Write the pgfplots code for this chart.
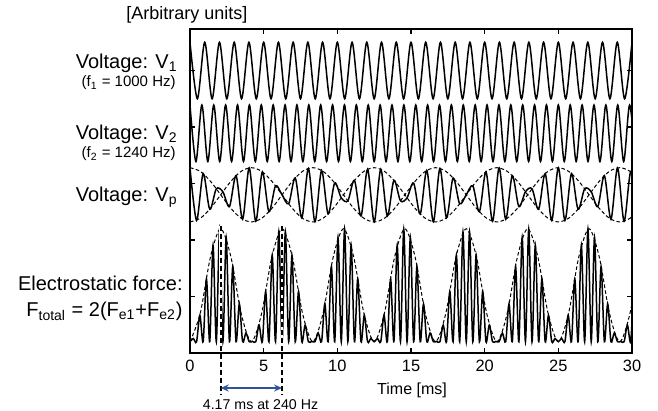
\documentclass[border=0pt]{standalone}
\usepackage{fontspec}
\setmainfont{Liberation Sans}
\usepackage{pgfplots}
\usepackage{pgfplotstable}
\pgfplotsset{compat=1.18}
\usetikzlibrary{arrows.meta}
\definecolor{arrowblue}{RGB}{47,85,151}

% V1, 1000 Hz: extremes every 0.5 ms, panel centre 5.0
\pgfplotstableread{
t y
0.0 5.5
0.5 4.5
1.0 5.5
1.5 4.5
2.0 5.5
2.5 4.5
3.0 5.5
3.5 4.5
4.0 5.5
4.5 4.5
5.0 5.5
5.5 4.5
6.0 5.5
6.5 4.5
7.0 5.5
7.5 4.5
8.0 5.5
8.5 4.5
9.0 5.5
9.5 4.5
10.0 5.5
10.5 4.5
11.0 5.5
11.5 4.5
12.0 5.5
12.5 4.5
13.0 5.5
13.5 4.5
14.0 5.5
14.5 4.5
15.0 5.5
15.5 4.5
16.0 5.5
16.5 4.5
17.0 5.5
17.5 4.5
18.0 5.5
18.5 4.5
19.0 5.5
19.5 4.5
20.0 5.5
20.5 4.5
21.0 5.5
21.5 4.5
22.0 5.5
22.5 4.5
23.0 5.5
23.5 4.5
24.0 5.5
24.5 4.5
25.0 5.5
25.5 4.5
26.0 5.5
26.5 4.5
27.0 5.5
27.5 4.5
28.0 5.5
28.5 4.5
29.0 5.5
29.5 4.5
30.0 5.5
}\vone

% V2, 1240 Hz: extremes every 0.403 ms, panel centre 3.89
\pgfplotstableread{
t y
0.000 4.39
0.403 3.39
0.806 4.39
1.210 3.39
1.613 4.39
2.016 3.39
2.419 4.39
2.823 3.39
3.226 4.39
3.629 3.39
4.032 4.39
4.435 3.39
4.839 4.39
5.242 3.39
5.645 4.39
6.048 3.39
6.452 4.39
6.855 3.39
7.258 4.39
7.661 3.39
8.065 4.39
8.468 3.39
8.871 4.39
9.274 3.39
9.677 4.39
10.081 3.39
10.484 4.39
10.887 3.39
11.290 4.39
11.694 3.39
12.097 4.39
12.500 3.39
12.903 4.39
13.306 3.39
13.710 4.39
14.113 3.39
14.516 4.39
14.919 3.39
15.323 4.39
15.726 3.39
16.129 4.39
16.532 3.39
16.935 4.39
17.339 3.39
17.742 4.39
18.145 3.39
18.548 4.39
18.952 3.39
19.355 4.39
19.758 3.39
20.161 4.39
20.565 3.39
20.968 4.39
21.371 3.39
21.774 4.39
22.177 3.39
22.581 4.39
22.984 3.39
23.387 4.39
23.790 3.39
24.194 4.39
24.597 3.39
25.000 4.39
25.403 3.39
25.806 4.39
26.210 3.39
26.613 4.39
27.016 3.39
27.419 4.39
27.823 3.39
28.226 4.39
28.629 3.39
29.032 4.39
29.435 3.39
29.839 4.39
30.242 3.39
}\vtwo

% Vp: carrier extremes every 0.446 ms, panel centre 2.80
\pgfplotstableread{
t y
0.000 3.280
0.446 2.347
0.893 3.175
1.339 2.545
1.786 2.907
2.232 2.854
2.679 2.592
3.125 3.139
3.571 2.368
4.018 3.277
4.464 2.332
4.911 3.206
5.357 2.501
5.804 2.958
6.250 2.800
6.696 2.642
7.143 3.099
7.589 2.394
8.036 3.268
8.482 2.323
8.929 3.232
9.375 2.461
9.821 3.008
10.268 2.746
10.714 2.693
11.161 3.055
11.607 2.425
12.054 3.253
12.500 2.320
12.946 3.253
13.393 2.425
13.839 3.055
14.286 2.693
14.732 2.746
15.179 3.008
15.625 2.461
16.071 3.232
16.518 2.323
16.964 3.268
17.411 2.394
17.857 3.099
18.304 2.642
18.750 2.800
19.196 2.958
19.643 2.501
20.089 3.206
20.536 2.332
20.982 3.277
21.429 2.368
21.875 3.139
22.321 2.592
22.768 2.854
23.214 2.907
23.661 2.545
24.107 3.175
24.554 2.347
25.000 3.280
25.446 2.347
25.893 3.175
26.339 2.545
26.786 2.907
27.232 2.854
27.679 2.592
28.125 3.139
28.571 2.368
29.018 3.277
29.464 2.332
29.911 3.206
30.357 2.501
}\vp

% dashed envelopes: up/lo for Vp, fe for the force
\pgfplotstableread{
t up lo fe
0.000 3.280 2.320 0.2
0.694 3.216 2.384 0.7
1.389 3.040 2.560 1.7
2.083 2.800 2.800 2.2
2.778 2.560 3.040 1.7
3.472 2.384 3.216 0.7
4.167 2.320 3.280 0.2
4.861 2.384 3.216 0.7
5.556 2.560 3.040 1.7
6.250 2.800 2.800 2.2
6.944 3.040 2.560 1.7
7.639 3.216 2.384 0.7
8.333 3.280 2.320 0.2
9.028 3.216 2.384 0.7
9.722 3.040 2.560 1.7
10.417 2.800 2.800 2.2
11.111 2.560 3.040 1.7
11.806 2.384 3.216 0.7
12.500 2.320 3.280 0.2
13.194 2.384 3.216 0.7
13.889 2.560 3.040 1.7
14.583 2.800 2.800 2.2
15.278 3.040 2.560 1.7
15.972 3.216 2.384 0.7
16.667 3.280 2.320 0.2
17.361 3.216 2.384 0.7
18.056 3.040 2.560 1.7
18.750 2.800 2.800 2.2
19.444 2.560 3.040 1.7
20.139 2.384 3.216 0.7
20.833 2.320 3.280 0.2
21.528 2.384 3.216 0.7
22.222 2.560 3.040 1.7
22.917 2.800 2.800 2.2
23.611 3.040 2.560 1.7
24.306 3.216 2.384 0.7
25.000 3.280 2.320 0.2
25.694 3.216 2.384 0.7
26.389 3.040 2.560 1.7
27.083 2.800 2.800 2.2
27.778 2.560 3.040 1.7
28.472 2.384 3.216 0.7
29.167 2.320 3.280 0.2
29.861 2.384 3.216 0.7
30.556 2.560 3.040 1.7
}\env

% electrostatic force: minima and peaks, baseline 0.2
\pgfplotstableread{
t y
0.000 0.2
0.223 0.256
0.446 0.2
0.670 0.668
0.893 0.2
1.116 1.312
1.339 0.2
1.563 1.907
1.786 0.2
2.009 2.194
2.232 0.2
2.455 2.047
2.679 0.2
2.902 1.530
3.125 0.2
3.348 0.870
3.571 0.2
3.795 0.353
4.018 0.2
4.241 0.206
4.464 0.2
4.688 0.493
4.911 0.2
5.134 1.088
5.357 0.2
5.580 1.732
5.804 0.2
6.027 2.144
6.250 0.2
6.473 2.144
6.696 0.2
6.920 1.732
7.143 0.2
7.366 1.088
7.589 0.2
7.813 0.493
8.036 0.2
8.259 0.206
8.482 0.2
8.705 0.353
8.929 0.2
9.152 0.870
9.375 0.2
9.598 1.530
9.821 0.2
10.045 2.047
10.268 0.2
10.491 2.194
10.714 0.2
10.938 1.907
11.161 0.2
11.384 1.312
11.607 0.2
11.830 0.668
12.054 0.2
12.277 0.256
12.500 0.2
12.723 0.256
12.946 0.2
13.170 0.668
13.393 0.2
13.616 1.312
13.839 0.2
14.063 1.907
14.286 0.2
14.509 2.194
14.732 0.2
14.955 2.047
15.179 0.2
15.402 1.530
15.625 0.2
15.848 0.870
16.071 0.2
16.295 0.353
16.518 0.2
16.741 0.206
16.964 0.2
17.188 0.493
17.411 0.2
17.634 1.088
17.857 0.2
18.080 1.732
18.304 0.2
18.527 2.144
18.750 0.2
18.973 2.144
19.196 0.2
19.420 1.732
19.643 0.2
19.866 1.088
20.089 0.2
20.313 0.493
20.536 0.2
20.759 0.206
20.982 0.2
21.205 0.353
21.429 0.2
21.652 0.870
21.875 0.2
22.098 1.530
22.321 0.2
22.545 2.047
22.768 0.2
22.991 2.194
23.214 0.2
23.438 1.907
23.661 0.2
23.884 1.312
24.107 0.2
24.330 0.668
24.554 0.2
24.777 0.256
25.000 0.2
25.223 0.256
25.446 0.2
25.670 0.668
25.893 0.2
26.116 1.312
26.339 0.2
26.563 1.907
26.786 0.2
27.009 2.194
27.232 0.2
27.455 2.047
27.679 0.2
27.902 1.530
28.125 0.2
28.348 0.870
28.571 0.2
28.795 0.353
29.018 0.2
29.241 0.206
29.464 0.2
29.688 0.493
29.911 0.2
30.134 1.088
30.357 0.2
}\force

\begin{document}
\begin{tikzpicture}
\useasboundingbox (0,0) rectangle (329pt,205.5pt);
\begin{axis}[
    at={(95pt,29pt)}, anchor=south west,
    scale only axis,
    width=221pt, height=162pt,
    xmin=0, xmax=30,
    ymin=0, ymax=5.735,
    xtick={0,5,...,30},
    ytick={1,2,3,4,5},
    yticklabels={},
    tick align=inside,
    major tick length=2.5pt,
    tick style={black, line width=0.8pt},
    axis line style={line width=0.9pt},
    axis on top,
    clip mode=individual,
    /pgf/number format/assume math mode=true,
    ticklabel style={font=\fontsize{8.2}{9}\selectfont},
]
    \addplot[black, line width=0.75pt, smooth] table[x=t, y=y] {\vone};
    \addplot[black, line width=0.75pt, smooth] table[x=t, y=y] {\vtwo};
    \addplot[black, line width=0.5pt, smooth, dash pattern=on 1.8pt off 1.2pt] table[x=t, y=up] {\env};
    \addplot[black, line width=0.5pt, smooth, dash pattern=on 1.8pt off 1.2pt] table[x=t, y=lo] {\env};
    \addplot[black, line width=0.75pt, smooth] table[x=t, y=y] {\vp};
    \addplot[black, line width=0.5pt, smooth, dash pattern=on 1.8pt off 1.2pt] table[x=t, y=fe] {\env};
    \addplot[black, line width=0.75pt, smooth] table[x=t, y=y] {\force};

    % 240 Hz period markers
    \draw[white, line width=1.2pt] (axis cs:2.083,0.08) -- (axis cs:2.083,2.25);
    \draw[white, line width=1.2pt] (axis cs:6.25,0.08) -- (axis cs:6.25,2.25);
    \draw[black, line width=1pt, dash pattern=on 2.5pt off 1.5pt] (axis cs:2.083,2.25) -- (axis cs:2.083,-0.743);
    \draw[black, line width=1pt, dash pattern=on 2.5pt off 1.5pt] (axis cs:6.25,2.25) -- (axis cs:6.25,-0.743);
    \draw[arrowblue, line width=0.8pt, {Stealth[length=4pt,width=3.5pt]}-{Stealth[length=4pt,width=3.5pt]}]
        (axis cs:2.083,-0.62) -- (axis cs:6.25,-0.62);
\end{axis}

\node[anchor=base west, inner sep=0pt, font=\fontsize{9}{10}\selectfont] at (63pt,195.5pt) {[Arbitrary units]};
\node[anchor=base east, inner sep=0pt, font=\fontsize{10}{12}\selectfont] at (89pt,171pt) {Voltage: V\textsubscript{1}};
\node[anchor=base east, inner sep=0pt, font=\fontsize{7.5}{9}\selectfont] at (88pt,162pt) {(f\textsubscript{1} = 1000 Hz)};
\node[anchor=base east, inner sep=0pt, font=\fontsize{10}{12}\selectfont] at (89pt,135.5pt) {Voltage: V\textsubscript{2}};
\node[anchor=base east, inner sep=0pt, font=\fontsize{7.5}{9}\selectfont] at (88pt,126.5pt) {(f\textsubscript{2} = 1240 Hz)};
\node[anchor=base east, inner sep=0pt, font=\fontsize{10}{12}\selectfont] at (89pt,104.6pt) {Voltage: V\textsubscript{p}};
\node[anchor=base east, inner sep=0pt, font=\fontsize{10}{12}\selectfont] at (91.5pt,60.1pt) {Electrostatic force:};
\node[anchor=base east, inner sep=0pt, font=\fontsize{10}{12}\selectfont] at (91.5pt,47.1pt) {F\textsubscript{total} = 2(F\textsubscript{e1}+F\textsubscript{e2})};
\node[anchor=base, inner sep=0pt, font=\fontsize{8}{9}\selectfont] at (206pt,8pt) {Time [ms]};
\node[anchor=base, inner sep=0pt, font=\fontsize{7.1}{8}\selectfont] at (130.25pt,0.8pt) {4.17 ms at 240 Hz};
\end{tikzpicture}
\end{document}
